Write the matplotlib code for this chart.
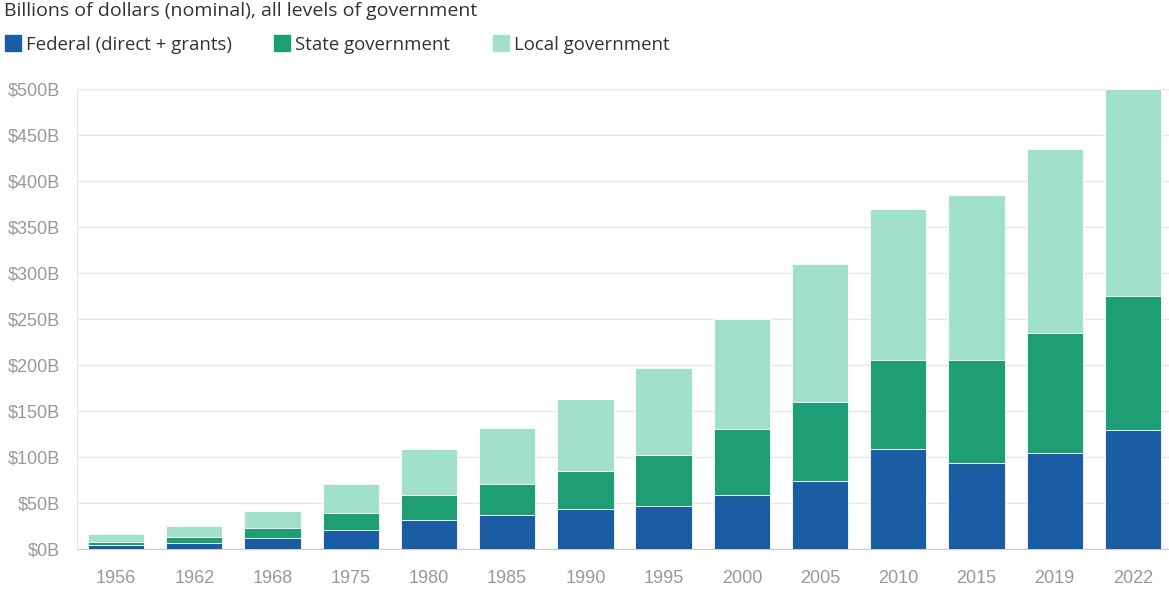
import numpy as np
import matplotlib
matplotlib.use("Agg")
import matplotlib.pyplot as plt
from matplotlib.lines import Line2D

# values (billions, nominal)
years = ["1956", "1962", "1968", "1975", "1980", "1985", "1990",
         "1995", "2000", "2005", "2010", "2015", "2019", "2022"]
federal = [4, 6, 12, 21, 31, 37, 43, 47, 59, 74, 109, 94, 104, 129]
state = [4, 7, 11, 18, 28, 34, 42, 55, 71, 86, 96, 111, 131, 146]
local = [8, 12, 18, 32, 50, 60, 78, 95, 120, 150, 165, 180, 200, 225]

y_ticks = [0, 50, 100, 150, 200, 250, 300, 350, 400, 450, 500]
y_labels = ["$%dB" % v for v in y_ticks]

series_names = ["Federal (direct + grants)", "State government", "Local government"]
colors = ["#1B5DA4", "#1E9E75", "#A1E1CB"]

W, H = 1169, 592
fig = plt.figure(figsize=(W / 100, H / 100), dpi=100)
ax = fig.add_axes([77 / W, 1 - 549 / H, (W - 77) / W, 460 / H])

x = np.arange(len(years))
fed = np.array(federal)
st = np.array(state)
loc = np.array(local)
width = 0.72
ax.bar(x, fed, width, color=colors[0], edgecolor="#ffffff", linewidth=0.6, zorder=3)
ax.bar(x, st, width, bottom=fed, color=colors[1], edgecolor="#ffffff", linewidth=0.6, zorder=3)
ax.bar(x, loc, width, bottom=fed + st, color=colors[2], edgecolor="#ffffff", linewidth=0.6, zorder=3)

ax.set_xlim(-0.5, len(years) - 0.5 - 3 / 78.3)
ax.set_ylim(0, 500)
ax.set_xticks(x)
ax.set_xticklabels(years)
ax.set_yticks(y_ticks)
ax.set_yticklabels(y_labels)
ax.tick_params(axis="both", length=0, labelsize=13, labelcolor="#999999",
               labelfontfamily="Liberation Sans")
ax.tick_params(axis="x", pad=15)
ax.tick_params(axis="y", pad=12)
ax.yaxis.grid(True, color="#e6e6e6", linewidth=1, zorder=0)
ax.set_axisbelow(True)
for side in ["top", "right"]:
    ax.spines[side].set_visible(False)
ax.spines["left"].set_color("#e6e6e6")
ax.spines["bottom"].set_color("#cccccc")

fig.text(4 / W, 1 - 11 / H, "Billions of dollars (nominal), all levels of government",
         fontsize=14, color="#333333", family="Open Sans", va="center", ha="left")

handles = [Line2D([], [], marker="s", linestyle="none", markersize=11,
                  markerfacecolor=c, markeredgecolor=c) for c in colors]
leg = fig.legend(handles, series_names, loc="center left",
                 bbox_to_anchor=(-11 / W, 1 - 45 / H), ncols=3, frameon=False,
                 handlelength=0.8, handletextpad=0.3, columnspacing=2.3,
                 prop={"family": "Open Sans", "size": 13.4})
for t in leg.get_texts():
    t.set_color("#333333")

fig.savefig("out.png", dpi=100)
